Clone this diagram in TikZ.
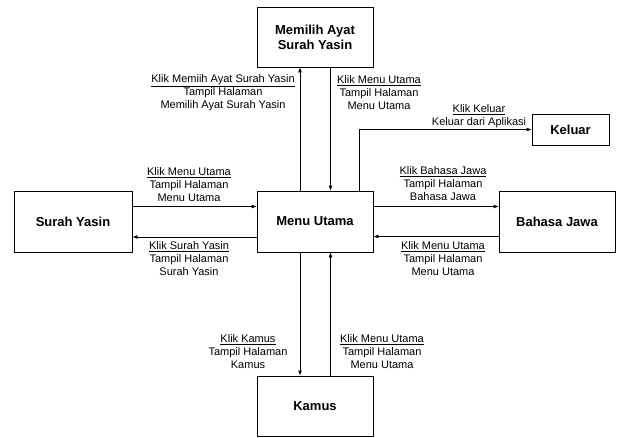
\documentclass[tikz,border=0pt]{standalone}
\usepackage{fontspec}
\setmainfont{Liberation Sans}
\usetikzlibrary{arrows.meta}

\begin{document}
\begin{tikzpicture}[x=1pt,y=-1pt,
	box/.style={draw,line width=0.8pt,align=center,inner sep=0pt,font=\fontsize{13}{15}\selectfont\bfseries},
	lbl/.style={align=center,inner sep=0pt,font=\fontsize{11}{13}\selectfont},
	arr/.style={-{Latex[length=5pt,width=4pt]},line width=0.8pt}]
		\useasboundingbox (0,0) rectangle (617,437);
		% halaman
		\node[box,minimum width=116pt,minimum height=60pt] (memilih) at (315,37) {Memilih Ayat\\Surah Yasin};
		\node[box,minimum width=116pt,minimum height=61pt] (menu) at (315,221.5) {Menu Utama};
		\node[box,minimum width=118pt,minimum height=61pt] (surah) at (73,221.5) {Surah Yasin};
		\node[box,minimum width=116pt,minimum height=61pt] (bahasa) at (557,221.5) {Bahasa Jawa};
		\node[box,minimum width=77pt,minimum height=31pt] (keluar) at (570.5,129.5) {Keluar};
		\node[box,minimum width=116pt,minimum height=60pt] (kamus) at (315,406) {Kamus};
		% navigasi
		\draw[arr] ([xshift=-15pt]menu.north) -- ([xshift=-15pt]memilih.south);
		\draw[arr] ([xshift=15.5pt]memilih.south) -- ([xshift=15.5pt]menu.north);
		\draw[arr] ([xshift=44pt]menu.north) |- (keluar.west);
		\draw[arr] ([yshift=15pt]surah.east) -- ([yshift=15pt]menu.west);
		\draw[arr] ([yshift=-15.5pt]menu.west) -- ([yshift=-15.5pt]surah.east);
		\draw[arr] ([yshift=15pt]menu.east) -- ([yshift=15pt]bahasa.west);
		\draw[arr] ([yshift=-15pt]bahasa.west) -- ([yshift=-15pt]menu.east);
		\draw[arr] ([xshift=-15pt]menu.south) -- ([xshift=-15pt]kamus.north);
		\draw[arr] ([xshift=15.5pt]kamus.north) -- ([xshift=15.5pt]menu.south);
		% keterangan
		\node[lbl] (lblmemilih) at (223,93) {\underline{Klik Memiih Ayat Surah Yasin}\\Tampil Halaman\\Memilih Ayat Surah Yasin};
		\node[lbl] (lblmemilihback) at (379,93) {\underline{Klik Menu Utama}\\Tampil Halaman\\Menu Utama};
		\node[lbl] (lblkeluar) at (479,116) {\underline{Klik Keluar}\\Keluar dari Aplikasi};
		\node[lbl] (lblbahasa) at (443,184) {\underline{Klik Bahasa Jawa}\\Tampil Halaman\\Bahasa Jawa};
		\node[lbl] (lblbahasaback) at (443,259) {\underline{Klik Menu Utama}\\Tampil Halaman\\Menu Utama};
		\node[lbl] (lblsurah) at (189,185) {\underline{Klik Menu Utama}\\Tampil Halaman\\Menu Utama};
		\node[lbl] (lblsurahback) at (189,258.5) {\underline{Klik Surah Yasin}\\Tampil Halaman\\Surah Yasin};
		\node[lbl] (lblkamus) at (248,352) {\underline{Klik Kamus}\\Tampil Halaman\\Kamus};
		\node[lbl] (lblkamusback) at (382,352) {\underline{Klik Menu Utama}\\Tampil Halaman\\Menu Utama};
	\end{tikzpicture}
\end{document}
